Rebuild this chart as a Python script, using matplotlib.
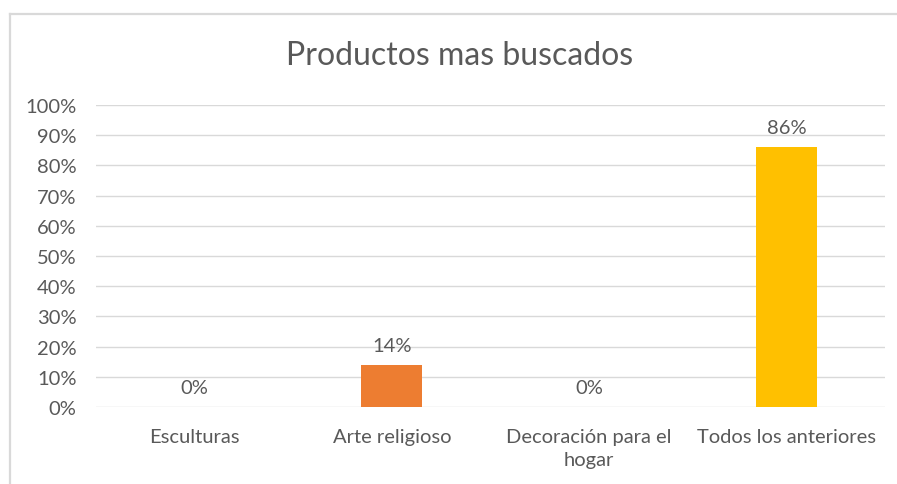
import numpy as np
import matplotlib.pyplot as plt
from matplotlib.lines import Line2D
from matplotlib.ticker import PercentFormatter

categories = ["Esculturas", "Arte religioso", "Decoración para el\nhogar", "Todos los anteriores"]
values = [0, 14, 0, 86]
colors = ["#4472C4", "#ED7D31", "#A5A5A5", "#FFC000"]
title = "Productos mas buscados"

plt.rcParams['font.family'] = ['Lato', 'DejaVu Sans']
text_color = "#595959"
grid_color = "#d9d9d9"

W, H = 897, 485
fig = plt.figure(figsize=(W / 100, H / 100), dpi=100)
fig.patch.set_facecolor("white")

# área de trazado (en píxeles de la referencia)
left, right, top, bottom = 96, 885, 106, 408
ax = fig.add_axes([left / W, 1 - bottom / H, (right - left) / W, (bottom - top) / H])

x = np.arange(len(categories))
bars = ax.bar(x, values, width=0.31, color=colors, zorder=3)

ax.set_xlim(-0.5, len(categories) - 0.5)
ax.set_ylim(0, 100)
ax.set_yticks(np.arange(0, 101, 10))
ax.yaxis.set_major_formatter(PercentFormatter(decimals=0))
ax.grid(axis='y', color=grid_color, linewidth=1, zorder=0)
for s in ax.spines.values():
    s.set_visible(False)
ax.tick_params(axis='both', length=0, colors=text_color, labelsize=14.5)
ax.tick_params(axis='y', pad=14)
ax.tick_params(axis='x', pad=15)
ax.set_xticks(x)
ax.set_xticklabels(categories, linespacing=1.45)

for b, v in zip(bars, values):
    ax.annotate(f"{v}%", (b.get_x() + b.get_width() / 2, v),
                xytext=(0, 8), textcoords='offset points',
                ha='center', va='bottom', fontsize=14.5, color=text_color)

fig.text(460 / W, 1 - 56 / H, title, ha='center', va='center', fontsize=23, color=text_color)

# marco del gráfico (recortado arriba e izquierda)
fig.add_artist(Line2D([9.5 / W, 1], [1 - 14.5 / H, 1 - 14.5 / H], color=grid_color, linewidth=1.6))
fig.add_artist(Line2D([9.5 / W, 9.5 / W], [0, 1 - 14.5 / H], color=grid_color, linewidth=1.6))

fig.savefig("out.png", dpi=100)
